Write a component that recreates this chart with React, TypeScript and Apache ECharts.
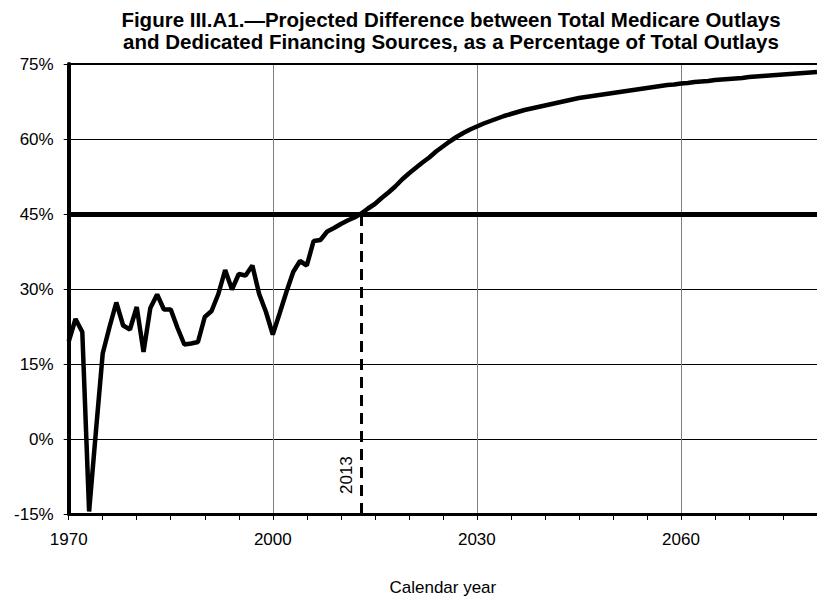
import React, { useEffect, useRef } from "react";
import * as echarts from "echarts";

const titleLines = [
  "Figure III.A1.\u2014Projected Difference between Total Medicare Outlays",
  "and Dedicated Financing Sources, as a Percentage of Total Outlays",
];
const xAxisName = "Calendar year";
const startYear = 1970;
const endYear = 2080;
// Percent of total outlays, one value per calendar year from 1970
const gapValues = [
  19.5, 24.0, 21.4, -14.5, 1.5, 17.1, 22.4, 27.3, 22.7, 21.9,
  26.4, 17.4, 26.2, 28.9, 25.9, 25.9, 22.2, 18.9, 19.1, 19.4,
  24.4, 25.6, 29.0, 33.8, 29.9, 33.0, 32.7, 34.7, 29.0, 25.4,
  20.9, 25.1, 29.4, 33.4, 35.6, 34.7, 39.6, 39.8, 41.5, 42.2,
  43.0, 43.7, 44.3, 45.1, 46.1, 47.0, 48.2, 49.3, 50.5, 51.9,
  53.1, 54.2, 55.3, 56.3, 57.5, 58.5, 59.5, 60.4, 61.2, 61.9,
  62.5, 63.1, 63.6, 64.1, 64.6, 65.0, 65.4, 65.8, 66.1, 66.4,
  66.7, 67.0, 67.3, 67.6, 67.9, 68.2, 68.4, 68.6, 68.8, 69.0,
  69.2, 69.4, 69.6, 69.8, 70.0, 70.2, 70.4, 70.6, 70.8, 70.9,
  71.1, 71.2, 71.4, 71.5, 71.6, 71.8, 71.9, 72.0, 72.1, 72.2,
  72.4, 72.5, 72.6, 72.7, 72.8, 72.9, 73.0, 73.1, 73.2, 73.3,
  73.4,
];
const thresholdPct = 45;
const thresholdYear = 2013;
const thresholdLabel = "2013";
const yMin = -15;
const yMax = 75;
const yStep = 15;
const xLabelStep = 30;
const xTickStep = 5;

const FONT = "'Liberation Sans', Arial, sans-serif";

export default function App() {
  const ref = useRef<HTMLDivElement>(null);
  useEffect(() => {
    if (!ref.current) return;
    const chart = echarts.init(ref.current, null, { renderer: "svg" });
    const data = gapValues.map((v, i) => [startYear + i, v]);
    chart.setOption({
      animation: false,
      backgroundColor: "#fff",
      textStyle: { fontFamily: FONT },
      title: {
        text: titleLines.join("\n"),
        left: 446,
        top: 3,
        textAlign: "center",
        textStyle: {
          fontFamily: FONT,
          fontWeight: "bold",
          fontSize: 20.5,
          lineHeight: 22,
          color: "#000",
        },
      },
      grid: { left: 68.7, right: 0, top: 64, bottom: 87, containLabel: false },
      xAxis: [
        {
          type: "value",
          min: startYear,
          max: endYear,
          interval: xTickStep,
          axisLine: { onZero: false, lineStyle: { color: "#000", width: 3 } },
          axisTick: { length: 6, lineStyle: { color: "#000", width: 1 } },
          axisLabel: { show: false },
          splitLine: { show: false },
        },
        {
          type: "value",
          position: "bottom",
          min: startYear,
          max: endYear,
          interval: xLabelStep,
          axisLine: { show: false, onZero: false },
          axisTick: { show: false },
          axisLabel: {
            margin: 17,
            fontSize: 17,
            color: "#000",
            fontFamily: FONT,
            showMaxLabel: false,
            formatter: (v: number) => String(v),
          },
          splitLine: { show: true, lineStyle: { color: "#808080", width: 1 } },
          name: xAxisName,
          nameLocation: "middle",
          nameGap: 65,
          nameTextStyle: { fontSize: 17, color: "#000", fontFamily: FONT },
        },
      ],
      yAxis: {
        type: "value",
        min: yMin,
        max: yMax,
        interval: yStep,
        axisLine: { show: true, lineStyle: { color: "#000", width: 4 } },
        axisTick: { show: true, length: 5, lineStyle: { color: "#000", width: 1 } },
        axisLabel: {
          margin: 15,
          fontSize: 17,
          color: "#000",
          fontFamily: FONT,
          formatter: (v: number) => `${v}%`,
        },
        splitLine: { show: true, lineStyle: { color: "#000", width: 1 } },
      },
      series: [
        {
          type: "line",
          xAxisIndex: 0,
          data,
          showSymbol: false,
          symbol: "none",
          lineStyle: { color: "#000", width: 4.5 },
          z: 5,
          markLine: {
            silent: true,
            symbol: "none",
            animation: false,
            data: [
              {
                yAxis: thresholdPct,
                lineStyle: { color: "#000", width: 5, type: "solid" },
                label: { show: false },
              },
              {
                yAxis: yMax,
                lineStyle: { color: "#000", width: 2, type: "solid" },
                label: { show: false },
              },
              [
                {
                  coord: [thresholdYear, yMin],
                  lineStyle: { color: "#000", width: 3, type: [11, 7] },
                  label: {
                    show: true,
                    formatter: thresholdLabel,
                    position: "insideStartTop",
                    distance: [20, 6],
                    fontSize: 17,
                    color: "#000",
                    fontFamily: FONT,
                  },
                },
                { coord: [thresholdYear, thresholdPct] },
              ],
            ],
          },
        },
      ],
    });
    return () => chart.dispose();
  }, []);
  return (
    <div
      ref={ref}
      style={{ position: "fixed", left: 0, top: 0, width: 817, height: 601 }}
    />
  );
}
